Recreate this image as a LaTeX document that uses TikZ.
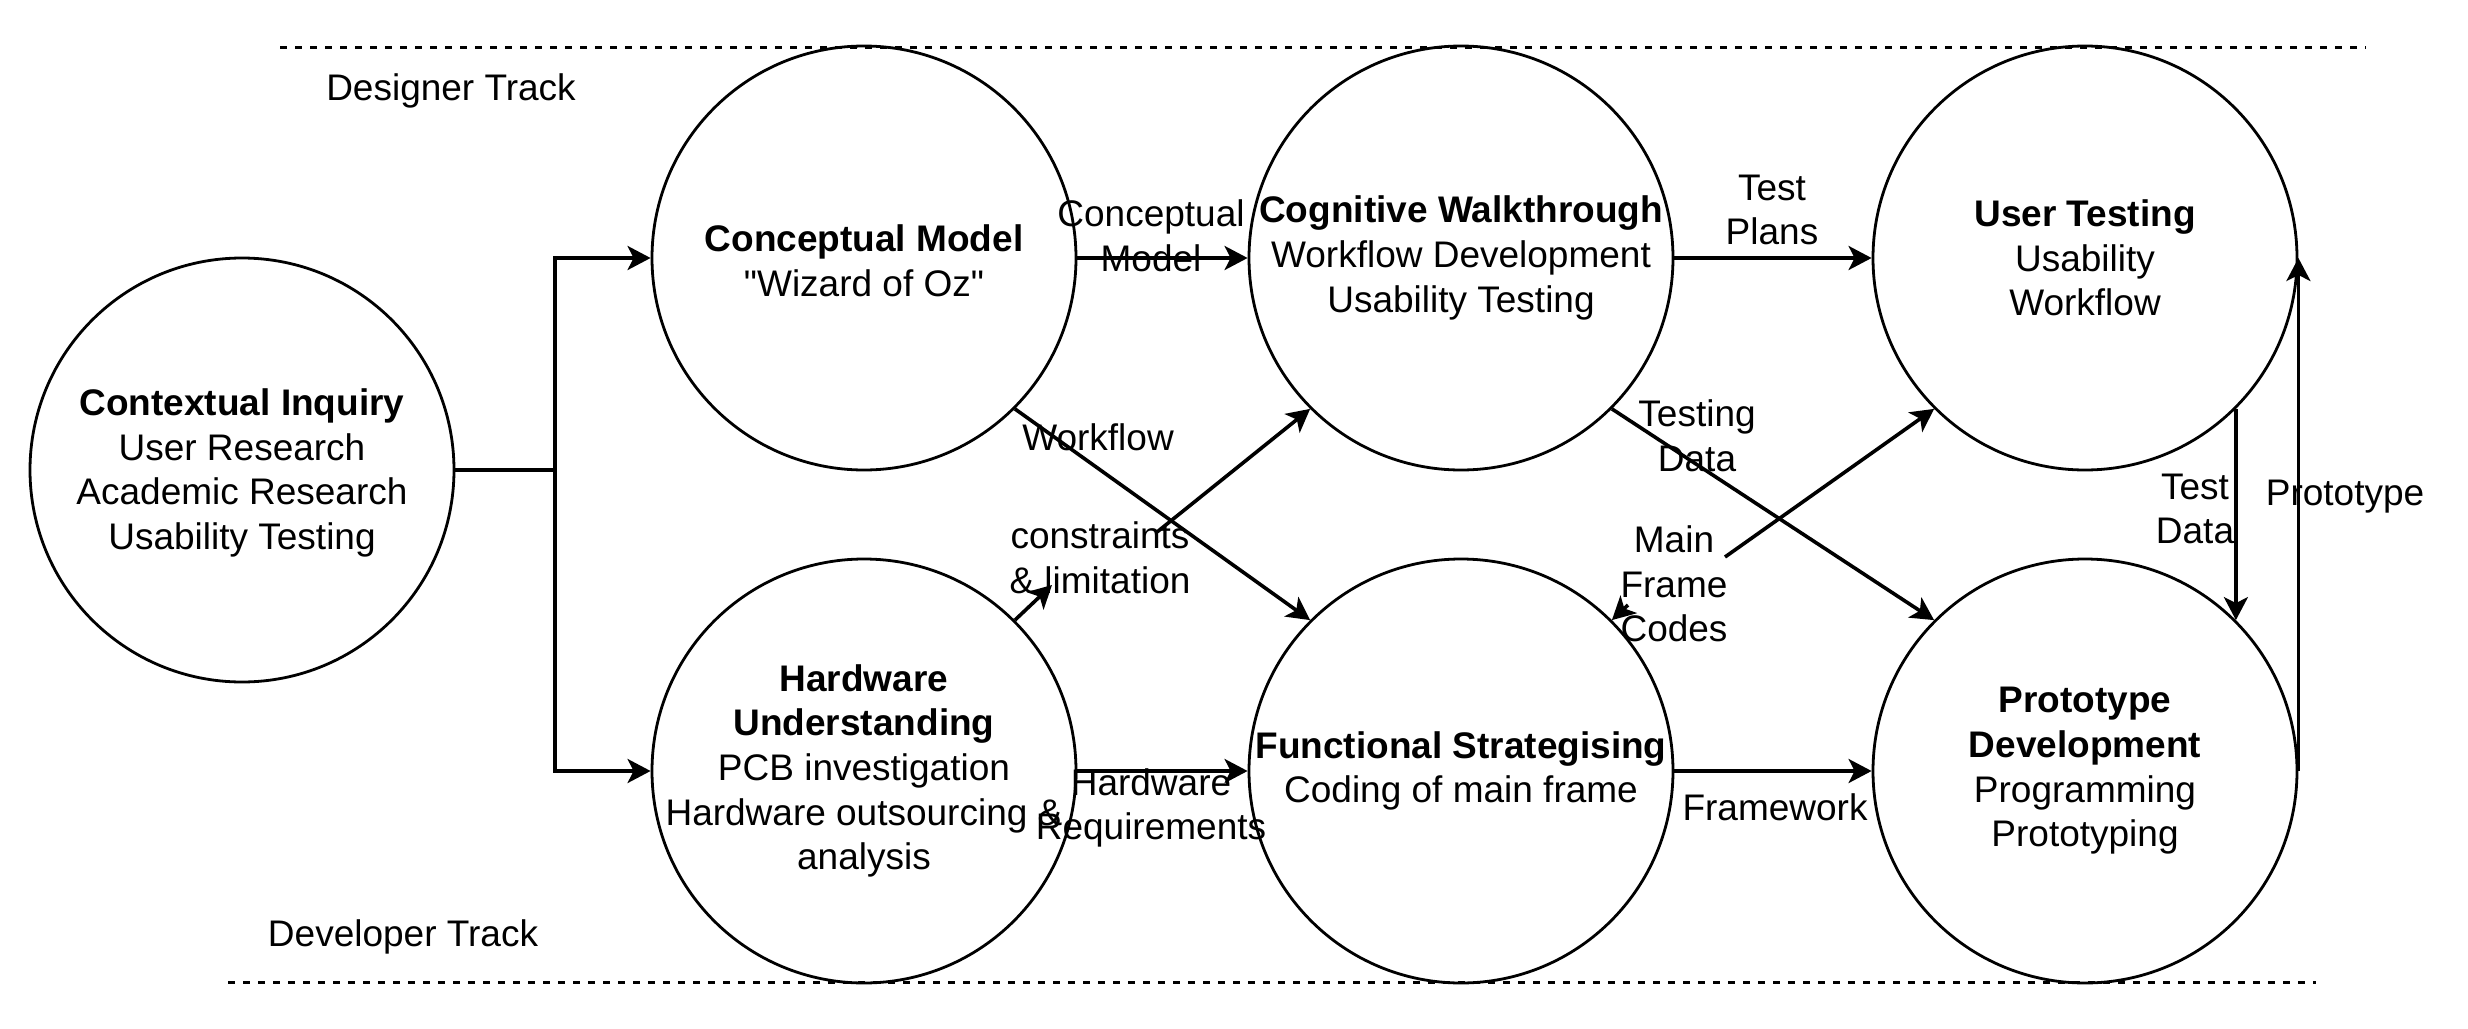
\documentclass[tikz,border=0pt]{standalone}
\usepackage{fontspec}
\setmainfont{Liberation Sans}[Ligatures=TeXOff]
\usetikzlibrary{arrows.meta}
\begin{document}
\begin{tikzpicture}[x=0.5pt,y=-0.5pt,
  txt/.style={font=\fontsize{18.5}{22.3}\selectfont, align=center, inner sep=0pt},
  phase/.style={circle, draw, line width=1.4pt, minimum size=212pt, inner sep=0pt},
  conn/.style={line width=1.8pt, -{Stealth[length=11.5pt,width=12pt,inset=3pt]}},
  plain/.style={line width=1.8pt},
  track/.style={line width=1.5pt, dash pattern=on 3.5pt off 4pt}]
\useasboundingbox (0,0) rectangle (2468,1028);

% track separators
\coordinate (t1) at (280,47);
\coordinate (t2) at (2366,47);
\coordinate (b1) at (228,982);
\coordinate (b2) at (2316,982);
\draw[track] (t1) -- (t2);
\draw[track] (b1) -- (b2);
\node[txt] (desT) at (451,91) {Designer Track};
\node[txt] (devT) at (403,937) {Developer Track};

% phases
\node[phase] (CI) at (242,470) {};
\node[phase] (CM) at (864,258) {};
\node[phase] (HU) at (864,771) {};
\node[phase] (CW) at (1461,258) {};
\node[phase] (FS) at (1461,771) {};
\node[phase] (UT) at (2085,258) {};
\node[phase] (PD) at (2085,771) {};

\node[txt] (CIt) at ([yshift=-1.5pt]CI) {\textbf{Contextual Inquiry}\\User Research\\Academic Research\\Usability Testing};
\node[txt] (CMt) at ([yshift=-1.5pt]CM) {\textbf{Conceptual Model}\\"Wizard of Oz"};
\node[txt] (HUt) at (HU) {\textbf{Hardware}\\\textbf{Understanding}\\PCB investigation\\Hardware outsourcing \&\\analysis};
\node[txt] (CWt) at (CW) {\textbf{Cognitive Walkthrough}\\Workflow Development\\Usability Testing};
\node[txt] (FSt) at (FS) {\textbf{Functional Strategising}\\Coding of main frame};
\node[txt] (UTt) at (UT) {\textbf{User Testing}\\Usability\\Workflow};
\node[txt] (PDt) at (PD) {\textbf{Prototype}\\\textbf{Development}\\Programming\\Prototyping};

% split from contextual inquiry
\coordinate (j) at (555,470);
\draw[plain] (CI.east) -- (j);
\draw[conn] (j) |- (CM.west);
\draw[conn] (j) |- (HU.west);

% horizontal connectors
\draw[conn] (CM.east) -- (CW.west);
\node[txt] (l1) at (1151,236) {Conceptual\\Model};
\draw[conn] (CW.east) -- (UT.west);
\node[txt] (l2) at (1772,210) {Test\\Plans};
\draw[conn] (HU.east) -- (FS.west);
\node[txt] (l3) at (1151,808) {Hardware\\Requirements};
\draw[conn] (FS.east) -- (PD.west);
\node[txt] (l4) at (1775,807) {Framework};

% diagonals
\draw[conn] (CM.-45) -- (FS.135);
\node[txt] (l5) at (1098,437) {Workflow};
\coordinate (c2) at (1052,585);
\coordinate (c1) at (1157,532);
\draw[conn] (HU.45) -- (c2);
\draw[conn] (c1) -- (CW.225);
\node[txt] (l6) at (1100,558) {constraints\\\& limitation};
\draw[conn] (CW.-45) -- (PD.135);
\node[txt] (l7) at (1697,436) {Testing\\Data};
\coordinate (m1) at (1725,557);
\coordinate (m2) at (1628,605);
\draw[conn] (m1) -- (UT.225);
\draw[conn] (m2) -- (FS.45);
\node[txt] (l8) at (1674,584) {Main\\Frame\\Codes};

% verticals on the right
\draw[conn] (UT.south east) -- (PD.north east);
\node[txt] (l9) at (2195,509) {Test\\Data};
\draw[conn] (PD.east) -- (UT.east);
\node[txt] (l10) at (2345,497) {Prototype};
\end{tikzpicture}
\end{document}
